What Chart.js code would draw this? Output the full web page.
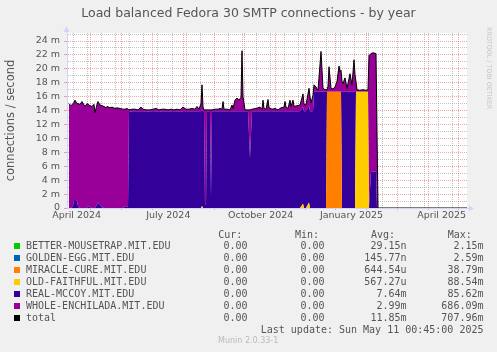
<!DOCTYPE html>
<html><head><meta charset="utf-8">
<script src="https://cdn.jsdelivr.net/npm/chart.js@4.4.1/dist/chart.umd.min.js"></script>
<style>
html,body{margin:0;padding:0;background:#F0F0F0;}
#wrap{position:relative;width:497px;height:352px;overflow:hidden;background:#F0F0F0;}
canvas{position:absolute;left:0;top:0;}
.t{position:absolute;font-family:'DejaVu Sans Mono',monospace;font-size:10px;line-height:12px;color:#555;white-space:pre;}
.sw{position:absolute;width:6px;height:6px;}
#munin{position:absolute;left:218px;top:335.8px;font-family:'DejaVu Sans',sans-serif;font-size:8px;line-height:10px;color:#bbb;white-space:pre;}
#wm{position:absolute;left:485px;top:27px;writing-mode:vertical-rl;font-family:'DejaVu Sans',sans-serif;font-size:6.4px;line-height:8px;color:#c4c4c4;white-space:pre;}
</style></head>
<body><div id="wrap"><canvas id="c" width="497" height="352"></canvas>
<div id="legend"></div>
<div id="munin">Munin 2.0.33-1</div>
<div id="wm">RRDTOOL / TOBI OETIKER</div>
</div>
<script>
// x = days from the left edge of the plot (1 pixel per day)
const days = [2,4,6,7,8,10,11,13,15,17,
 18,20,21,23,25,27,28,30,31,33,
 35,37,39,40,43,45,48,50,53,56,
 58,60,61,62,65,68,71,74,76,79,
 83,86,89,92,95,98,101,104,107,110,
 113,116,119,122,125,128,130,132,134,135,
 136,137,138,139,140,143,144,145,148,151,
 153,155,156,157,160,163,165,166,168,170,
 172,174,175,176,178,181,183,185,189,193,
 195,196,197,199,201,202,205,208,211,214,
 217,218,219,221,223,224,226,227,230,233,
 236,237,239,242,243,244,246,247,249,251,
 254,256,258,259,260,261,262,264,266,268,
 270,272,273,274,275,276,278,280,283,285,
 287,288,289,290,293,296,299,301,302,304,
 306,309,310,311,400];

const realMccoy = [0,0,0.3,1.1,1.2,1.0,0.2,0,0,0,
 0,0,0.3,0.1,0,0,0,0.5,0.8,0.5,
 0.1,0,0,0,0,0,0,0,0,0,
 0.3,0.1,0.2,13.8,13.9,13.9,13.9,13.9,13.9,13.8,
 13.9,13.9,13.9,13.8,13.9,13.9,13.8,13.9,13.9,13.9,
 13.8,13.9,13.9,13.9,13.9,13.9,13.9,13.9,13.9,13.9,
 13.9,13.9,0.5,0.8,13.9,13.9,1.6,13.9,13.9,13.9,
 13.9,13.9,13.9,13.9,13.9,13.9,13.9,13.9,13.9,13.9,
 13.9,13.9,13.9,13.9,13.9,13.9,7.2,13.9,13.9,13.9,
 13.9,13.9,13.9,13.9,13.9,13.9,13.9,13.9,13.9,13.9,
 13.9,13.9,13.9,13.9,13.9,13.9,13.9,13.9,13.9,13.9,
 13.9,13.9,13.9,13.9,13.9,13.9,13.9,16.7,16.7,16.7,
 16.7,16.7,16.7,16.7,0,0,0,0,0,0,
 0,0,0,0,16.7,16.7,16.7,16.7,16.7,16.7,
 16.7,16.7,0,0,0,0,0,0,0,5.2,
 5.2,5.2,0,0,0];

const wholeEnchilada = [15.0,14.7,14.7,14.1,14.3,14.0,14.8,14.9,15.3,14.8,
 14.6,15.0,14.6,14.6,14.6,14.9,13.7,14.4,14.5,14.3,
 14.6,14.6,14.4,14.6,14.4,14.5,14.3,14.4,14.3,14.2,
 13.9,14.2,14.0,0.3,0.3,0.3,0.2,0.6,0.3,0.3,
 0.2,0.3,0.4,0.3,0.3,0.3,0.3,0.3,0.2,0.3,
 0.3,0.6,0.3,0.3,0.4,0.3,0.7,0.3,1.1,3.5,
 0.6,0.2,13.6,13.3,0.2,0.2,12.5,0.2,0.3,0.3,
 0.4,0.3,1.4,0.3,0.3,0.2,0.9,0.4,1.6,1.9,
 1.6,2.0,8.7,2.1,0.2,0.2,6.9,0.3,0.4,0.6,
 0.3,1.6,0.4,0.3,1.7,0.5,0.3,0.4,0.2,0.5,
 0.6,1.4,0.6,0.4,1.6,0.7,1.6,0.7,0.8,0.9,
 1.9,1.0,0.9,2.5,2.1,1.2,2.3,1.0,0.7,0.2,
 5.8,0.5,0.3,0.3,0.3,0.8,3.6,0.5,0.4,0.7,
 1.5,3.7,2.9,3.1,1.5,1.2,2.0,0.5,2.6,1.0,
 4.6,2.5,1.4,0.3,0.2,0.3,0.2,0.3,21.9,17.0,
 17.1,17.0,11.0,0,0];

const miracleCure = [0,0,0,0,0,0,0,0,0,0,
 0,0,0,0,0,0,0,0,0,0,
 0,0,0,0,0,0,0,0,0,0,
 0,0,0,0,0,0,0,0,0,0,
 0,0,0,0,0,0,0,0,0,0,
 0,0,0,0,0,0,0,0,0,0,
 0,0,0,0,0,0,0,0,0,0,
 0,0,0,0,0,0,0,0,0,0,
 0,0,0,0,0,0,0,0,0,0,
 0,0,0,0,0,0,0,0,0,0,
 0,0,0,0,0,0,0,0,0,0,
 0,0,0,0,0,0,0,0,0,0,
 0,0,0,0,16.7,16.7,16.7,16.7,16.7,16.7,
 16.7,16.7,16.7,16.7,0,0,0,0,0,0,
 0,0,0,0,0,0,0,0,0,0,
 0,0,0,0,0];

const oldFaithful = [0,0,0,0,0,0,0,0,0,0,
 0,0,0,0,0,0,0,0,0,0,
 0,0,0,0,0,0,0,0,0,0,
 0,0,0,0,0,0,0,0,0,0,
 0,0,0,0,0,0,0,0,0,0,
 0,0,0,0,0,0,0,0,0,0.3,
 0,0,0,0,0,0,0,0,0,0,
 0,0,0,0,0,0,0,0,0,0,
 0,0,0,0,0,0,0,0,0,0,
 0,0,0,0,0,0,0,0,0,0,
 0,0,0,0,0,0,0,0,0,0,
 0.6,0,0,0.8,0,0,0,0,0,0,
 0,0,0,0,0,0,0,0,0,0,
 0,0,0,0,0,0,0,0,0,0,
 0,0,16.7,16.7,16.7,16.7,16.7,16.7,0,0,
 0,0,0,0,0];

const total = [15.0,14.7,15.0,15.2,15.5,15.0,15.0,14.9,15.3,14.8,
 14.6,15.0,14.9,14.7,14.6,14.9,13.7,14.9,15.3,14.8,
 14.7,14.6,14.4,14.6,14.4,14.5,14.3,14.4,14.3,14.2,
 14.2,14.3,14.2,14.1,14.2,14.2,14.1,14.5,14.2,14.1,
 14.1,14.2,14.3,14.1,14.2,14.2,14.1,14.2,14.1,14.2,
 14.1,14.5,14.2,14.2,14.3,14.2,14.6,14.2,15.0,17.7,
 14.5,14.1,14.1,14.1,14.1,14.1,14.1,14.1,14.2,14.2,
 14.3,14.2,15.3,14.2,14.2,14.1,14.8,14.3,15.5,15.8,
 15.5,15.9,22.6,16.0,14.1,14.1,14.1,14.2,14.3,14.5,
 14.2,15.5,14.3,14.2,15.6,14.4,14.2,14.3,14.1,14.4,
 14.5,15.3,14.5,14.3,15.5,14.6,15.5,14.6,14.7,14.8,
 16.4,14.9,14.8,17.2,16.0,15.1,16.2,17.7,17.4,16.9,
 22.5,17.2,17.0,17.0,17.0,17.5,20.3,17.2,17.1,17.4,
 18.2,20.4,19.6,19.8,18.2,17.9,18.7,17.2,19.3,17.7,
 21.3,19.2,18.1,17.0,16.9,17.0,16.9,17.0,21.9,22.2,
 22.3,22.2,11.0,0,0];

// series that stay at (practically) zero all year
const zeroDays = [2, 311, 400];
const betterMousetrap = [0, 0, 0];
const goldenEgg = [0, 0, 0];

// axis ticks / grid (in the same day units)
const tickLabels = ['April 2024','July 2024','October 2024','January 2025','April 2025'];
const labelTicks = [9.7, 101.3, 193.7, 284.5, 374.7];
const monthLines = [23.3, 54.3, 85, 116, 147.3, 177.7, 208.3, 238.3, 268.3, 299, 330, 361, 391.7];
const weekLines = [6.7, 20.7, 34.5, 48.5, 62.7, 76.7, 90.9, 105, 119.2, 133.2, 161.5, 175.5, 189.5, 203.5,
 217.6, 231.6, 245.5, 259.6, 273.6, 287.7, 301.7, 315.7, 343.7, 357.8, 371.8, 385.8];

// legend table
const legendNames = ['BETTER-MOUSETRAP.MIT.EDU','GOLDEN-EGG.MIT.EDU','MIRACLE-CURE.MIT.EDU','OLD-FAITHFUL.MIT.EDU','REAL-MCCOY.MIT.EDU','WHOLE-ENCHILADA.MIT.EDU','total'];
const legendColors = ['#00CC00','#0066B3','#FF8000','#FFCC00','#330099','#990099','#000000'];
const curVals = ['0.00','0.00','0.00','0.00','0.00','0.00','0.00'];
const minVals = ['0.00','0.00','0.00','0.00','0.00','0.00','0.00'];
const avgVals = ['29.15n','145.77n','644.54u','567.27u','7.64m','2.99m','11.85m'];
const maxVals = ['2.15m','2.59m','38.79m','88.54m','85.62m','686.09m','707.96m'];
const headers = ['Cur:','Min:','Avg:','Max:'];
const lastUpdate = 'Last update: Sun May 11 00:45:00 2025';

const MAJOR = 'rgba(222,79,79,0.5)';
const MINOR = 'rgba(143,143,143,0.55)';
const AXIS = '#CFD6F8';

Chart.defaults.font.family = "'DejaVu Sans', sans-serif";

const area = (label, data, color, fill) => ({
  label, data, backgroundColor: color, borderColor: color, borderWidth: 0,
  fill, pointRadius: 0, tension: 0, order: 1
});
const asXY = (xs, ys) => ys.map((y, i) => ({x: xs[i], y}));

const bgPlugin = {
  id: 'canvasBg',
  beforeDraw(chart) {
    const {ctx, chartArea: a} = chart;
    ctx.save(); ctx.fillStyle = '#FFFFFF';
    ctx.fillRect(a.left, a.top, a.right - a.left, a.bottom - a.top);
    ctx.restore();
  }
};
const arrowPlugin = {
  id: 'axisArrows',
  afterDraw(chart) {
    const {ctx, chartArea: a} = chart;
    ctx.save();
    ctx.fillStyle = AXIS; ctx.strokeStyle = AXIS; ctx.lineWidth = 1;
    const lx = Math.round(a.left) - 0.5, by = Math.round(a.bottom) + 0.5;
    ctx.beginPath(); ctx.moveTo(lx, a.top); ctx.lineTo(lx, a.top - 2); ctx.stroke();
    ctx.beginPath(); ctx.moveTo(lx - 3, a.top - 1); ctx.lineTo(lx + 3, a.top - 1); ctx.lineTo(lx, a.top - 7); ctx.closePath(); ctx.fill();
    ctx.beginPath(); ctx.moveTo(a.right, by); ctx.lineTo(a.right + 2, by); ctx.stroke();
    ctx.beginPath(); ctx.moveTo(a.right + 2, by - 3); ctx.lineTo(a.right + 2, by + 3); ctx.lineTo(a.right + 7, by); ctx.closePath(); ctx.fill();
    ctx.restore();
  }
};

const allXTicks = [...weekLines, ...monthLines, ...labelTicks].sort((p, q) => p - q);

new Chart(document.getElementById('c'), {
  type: 'line',
  data: {
    labels: days,
    datasets: [
      area('BETTER-MOUSETRAP.MIT.EDU', asXY(zeroDays, betterMousetrap), '#00CC00', 'origin'),
      area('GOLDEN-EGG.MIT.EDU', asXY(zeroDays, goldenEgg), '#0066B3', '-1'),
      area('MIRACLE-CURE.MIT.EDU', miracleCure, '#FF8000', '-1'),
      area('OLD-FAITHFUL.MIT.EDU', oldFaithful, '#FFCC00', '-1'),
      area('REAL-MCCOY.MIT.EDU', realMccoy, '#330099', '-1'),
      area('WHOLE-ENCHILADA.MIT.EDU', wholeEnchilada, '#990099', '-1'),
      {label: 'total', data: total, borderColor: '#000000', backgroundColor: '#000000',
       borderWidth: 1, fill: false, pointRadius: 0, tension: 0, stack: 'total', order: 0}
    ]
  },
  options: {
    responsive: false, animation: false, devicePixelRatio: 1,
    layout: {padding: {left: 0, right: 0, top: 0, bottom: 124}},
    plugins: {
      legend: {display: false}, tooltip: {enabled: false},
      title: {display: true, text: 'Load balanced Fedora 30 SMTP connections - by year',
        color: '#555', font: {size: 12.5, weight: 'normal'}, padding: {top: 6, bottom: 12}}
    },
    scales: {
      x: {
        type: 'linear', min: 0, max: 400, z: 1,
        afterBuildTicks: s => { s.ticks = allXTicks.map(v => ({value: v})); },
        afterFit: s => { s.height = 20; },
        ticks: {autoSkip: false, maxRotation: 0, minRotation: 0, padding: 0, color: '#555', font: {size: 9.5},
          callback: v => { const i = labelTicks.indexOf(v); return i >= 0 ? tickLabels[i] : ''; }},
        grid: {
          color: c => monthLines.includes(c.tick.value) ? MAJOR : (weekLines.includes(c.tick.value) ? MINOR : 'rgba(0,0,0,0)'),
          tickColor: c => monthLines.includes(c.tick.value) ? MAJOR : 'rgba(0,0,0,0)',
          tickLength: 2, lineWidth: 1
        },
        border: {display: true, color: AXIS, width: 1, dash: [1, 1]}
      },
      y: {
        stacked: true, min: 0, max: 25.15, z: 1,
        afterFit: s => { s.width = 67; },
        title: {display: true, text: 'connections / second', color: '#555', font: {size: 11.5}, padding: {top: 4, bottom: 0}},
        ticks: {stepSize: 1, includeBounds: false, autoSkip: false, padding: 4, color: '#555', font: {size: 9.5},
          callback: v => v % 2 === 0 ? (v === 0 ? '0' : v + ' m') : ''},
        grid: {
          color: c => c.tick.value % 2 === 0 ? MAJOR : MINOR,
          tickColor: c => c.tick.value % 2 === 0 ? MAJOR : 'rgba(0,0,0,0)',
          tickLength: 3, lineWidth: 1
        },
        border: {display: true, color: AXIS, width: 1, dash: [1, 1]}
      },
      y2: {
        position: 'right', display: true,
        afterFit: s => { s.width = 30; },
        ticks: {display: false}, grid: {display: false}, border: {display: false}
      }
    }
  },
  plugins: [bgPlugin, arrowPlugin]
});

// legend table (text)
const leg = document.getElementById('legend');
function addText(txt, style) {
  const d = document.createElement('div');
  d.className = 't'; d.textContent = txt;
  Object.assign(d.style, style);
  leg.appendChild(d);
}
const headerLeft = [218.3, 295, 371, 447.7];
headers.forEach((h, i) => addText(h, {left: headerLeft[i] + 'px', top: '228.7px'}));
const colRight = [247.5, 324.5, 406.5, 483.5];
legendNames.forEach((name, i) => {
  const top = 239.7 + 12 * i;
  const sw = document.createElement('div');
  sw.className = 'sw'; sw.style.left = '14px'; sw.style.top = (242.7 + 12 * i) + 'px';
  sw.style.background = legendColors[i];
  leg.appendChild(sw);
  addText(name, {left: '26px', top: top + 'px'});
  [curVals[i], minVals[i], avgVals[i], maxVals[i]].forEach((v, k) =>
    addText(v, {right: (497 - colRight[k]) + 'px', top: top + 'px'}));
});
addText(lastUpdate, {right: (497 - 483.5) + 'px', top: '323.7px'});
</script>
</body></html>
